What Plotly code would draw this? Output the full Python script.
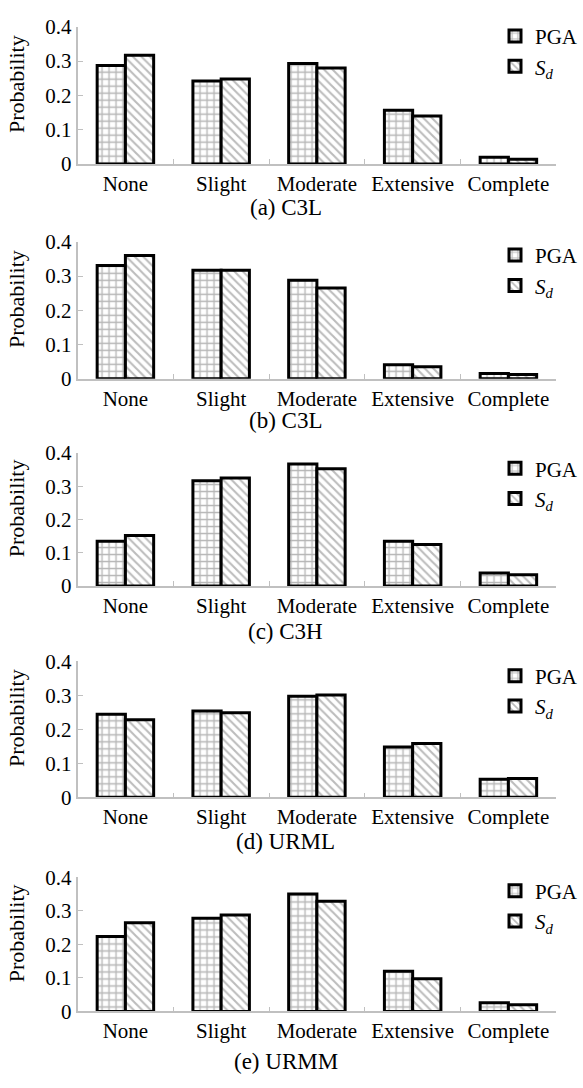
import plotly.graph_objects as go

# ---------------- data ----------------
categories = ["None", "Slight", "Moderate", "Extensive", "Complete"]
captions = ["(a) C3L", "(b) C3L", "(c) C3H", "(d) URML", "(e) URMM"]
series_names = ["PGA", "<i>S</i><sub><i>d</i></sub>"]

pga_a = [0.287, 0.242, 0.293, 0.157, 0.020]
sd_a = [0.317, 0.248, 0.280, 0.140, 0.014]
pga_b = [0.331, 0.317, 0.288, 0.041, 0.015]
sd_b = [0.360, 0.317, 0.265, 0.035, 0.012]
pga_c = [0.135, 0.317, 0.367, 0.135, 0.039]
sd_c = [0.152, 0.325, 0.353, 0.125, 0.034]
pga_d = [0.244, 0.254, 0.297, 0.148, 0.053]
sd_d = [0.228, 0.249, 0.301, 0.158, 0.055]
pga_e = [0.224, 0.278, 0.351, 0.120, 0.026]
sd_e = [0.265, 0.288, 0.329, 0.098, 0.020]

y_tick_values = [0, 0.1, 0.2, 0.3, 0.4]
y_tick_labels = ["0", "0.1", "0.2", "0.3", "0.4"]

pga_sets = [pga_a, pga_b, pga_c, pga_d, pga_e]
sd_sets = [sd_a, sd_b, sd_c, sd_d, sd_e]

# ---------------- layout geometry (pixels) ----------------
W, H = 583, 1088
FONT = "Liberation Serif, Times New Roman, serif"
panel_px = [(15, 155.5), (235, 375), (451, 587), (664, 803), (885, 1022)]
x_left, x_right = 80, 574
caption_px = [200, 418, 633, 848, 1073]
legend_top_px = [4, 228, 446, 658, 878]
legend_gap = [0, 0, 16, 16, 16]


def py(p):
    return 1 - p / H


def px(p):
    return p / W


fig = go.Figure()
layout = dict(
    width=W, height=H, autosize=False,
    margin=dict(l=0, r=0, t=0, b=0),
    paper_bgcolor="white", plot_bgcolor="white",
    barmode="group", bargap=0.41, bargroupgap=0,
    font=dict(family=FONT, size=21, color="black"),
    showlegend=True,
)
annotations = []

for i in range(5):
    n = "" if i == 0 else str(i + 1)
    xa, ya = "x" + n, "y" + n
    lg = "legend" + n
    top, bot = panel_px[i]
    fig.add_trace(go.Bar(
        x=categories, y=pga_sets[i], name=series_names[0],
        xaxis=xa, yaxis=ya, legend=lg, legendgroup=f"p{i}a",
        marker=dict(color="white", line=dict(color="black", width=3),
                    pattern=dict(shape="+", fgcolor="#6e6e6e", bgcolor="white",
                                 size=7, solidity=0.35)),
        hoverinfo="skip",
    ))
    fig.add_trace(go.Bar(
        x=categories, y=sd_sets[i], name=series_names[1],
        xaxis=xa, yaxis=ya, legend=lg, legendgroup=f"p{i}b",
        marker=dict(color="white", line=dict(color="black", width=3),
                    pattern=dict(shape="\\", fgcolor="#7a7a7a", bgcolor="white",
                                 size=6, solidity=0.35)),
        hoverinfo="skip",
    ))
    layout["xaxis" + n] = dict(
        domain=[px(x_left), px(x_right)], anchor=ya,
        showline=True, linecolor="#c0c0c0", linewidth=1.5,
        ticks="inside", ticklen=5, tickcolor="#c0c0c0", tickwidth=1,
        tickson="boundaries", showgrid=False, zeroline=False,
        tickfont=dict(family=FONT, size=21, color="black"),
        fixedrange=True,
    )
    layout["yaxis" + n] = dict(
        domain=[py(bot), py(top)], anchor=xa,
        range=[0, 0.4], tickvals=y_tick_values, ticktext=y_tick_labels,
        showline=True, linecolor="#c0c0c0", linewidth=1.5,
        ticks="inside", ticklen=6, tickcolor="#c0c0c0", tickwidth=1,
        showgrid=False, zeroline=False,
        tickfont=dict(family=FONT, size=21, color="black"),
        fixedrange=True,
    )
    layout[lg] = dict(
        x=px(511), y=py(legend_top_px[i]), xanchor="left", yanchor="top",
        bgcolor="rgba(0,0,0,0)", borderwidth=0,
        font=dict(family=FONT, size=21, color="black"),
        tracegroupgap=legend_gap[i], traceorder="normal",
    )
    annotations.append(dict(
        text="Probability", textangle=-90, showarrow=False,
        xref="paper", yref="paper", x=px(17), y=py((top + bot) / 2 - 12),
        xanchor="center", yanchor="middle",
        font=dict(family=FONT, size=22, color="black"),
    ))
    annotations.append(dict(
        text=captions[i], showarrow=False,
        xref="paper", yref="paper", x=px(295), y=py(caption_px[i]),
        xanchor="center", yanchor="middle",
        font=dict(family=FONT, size=23, color="black"),
    ))

layout["annotations"] = annotations
fig.update_layout(**layout)
fig.write_html("out.html")
